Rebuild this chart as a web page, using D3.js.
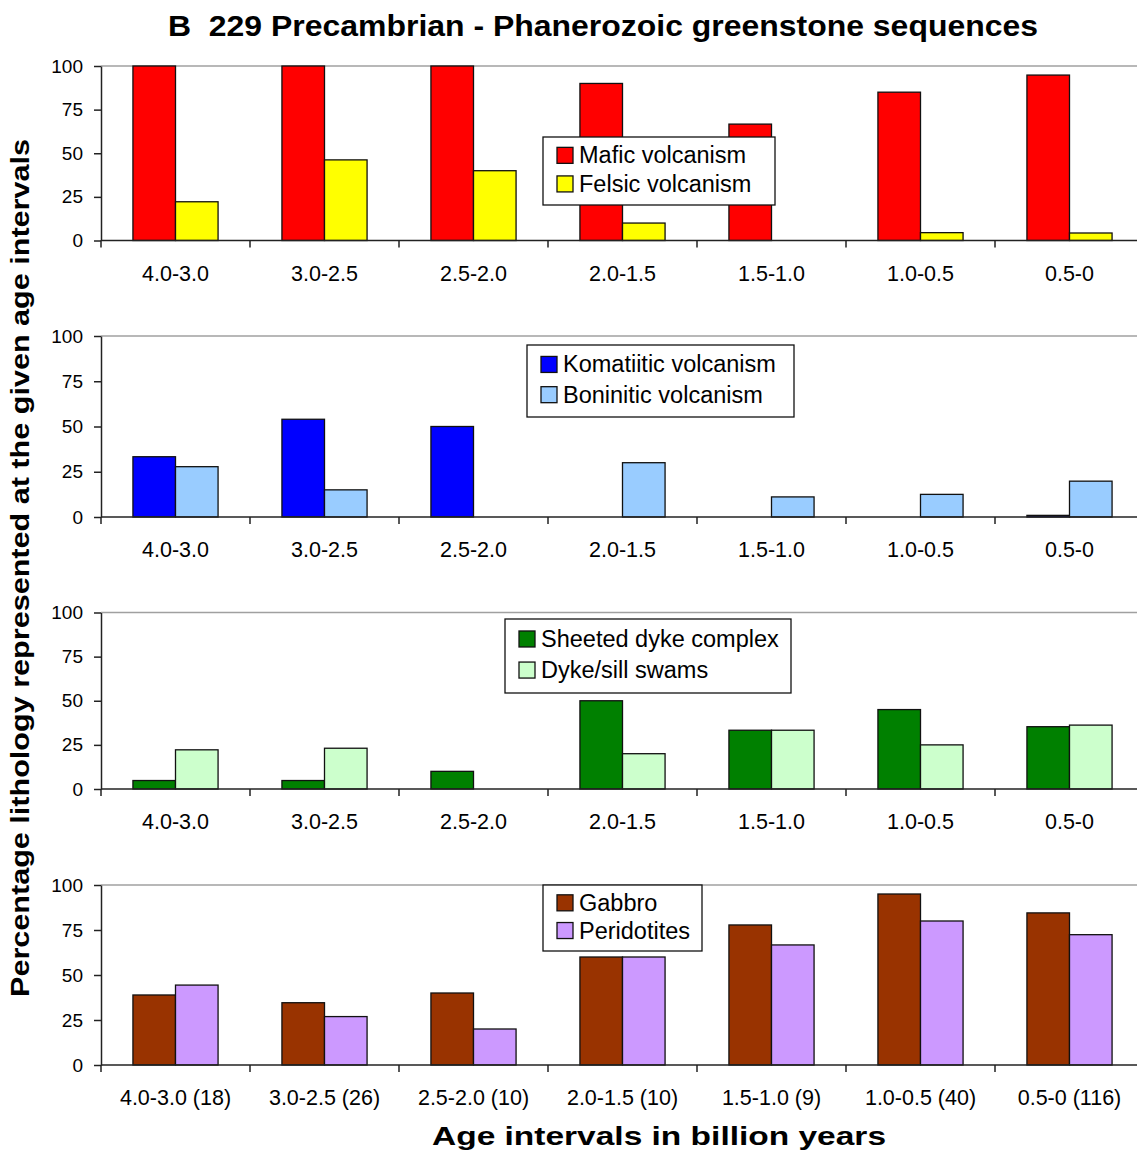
<!DOCTYPE html>
<html>
<head>
<meta charset="utf-8">
<script src="https://cdn.jsdelivr.net/npm/d3@7"></script>
<style>
  html, body { margin: 0; padding: 0; background: #fff; }
  svg { display: block; font-family: "Liberation Sans", Arial, Helvetica, sans-serif; }
</style>
</head>
<body>
<svg id="chart" width="1137" height="1157"></svg>
<script>
// Age intervals (billion years) and number of sequences per interval
const categories = ["4.0-3.0", "3.0-2.5", "2.5-2.0", "2.0-1.5", "1.5-1.0", "1.0-0.5", "0.5-0"];
const bottomLabels = ["4.0-3.0 (18)", "3.0-2.5 (26)", "2.5-2.0 (10)", "2.0-1.5 (10)", "1.5-1.0 (9)", "1.0-0.5 (40)", "0.5-0 (116)"];
const yTicks = [0, 25, 50, 75, 100];

// Percentage of sequences containing each lithology
const mafic       = [100, 100, 100, 90, 66.7, 85, 94.8];
const felsic      = [22.2, 46.2, 40, 10, 0, 4.5, 4.3];
const komatiitic  = [33.3, 54, 50, 0, 0, 0, 0.9];
const boninitic   = [27.8, 15, 0, 30, 11.1, 12.5, 19.8];
const sheetedDyke = [4.8, 4.8, 10, 50, 33.3, 45, 35.3];
const dykeSill    = [22.2, 23.1, 0, 20, 33.3, 25, 36.2];
const gabbro      = [38.9, 34.6, 40, 60, 77.8, 95, 84.5];
const peridotites = [44.4, 26.9, 20, 60, 66.7, 80, 72.4];

const seriesNames = [
  ["Mafic volcanism", "Felsic volcanism"],
  ["Komatiitic volcanism", "Boninitic volcanism"],
  ["Sheeted dyke complex", "Dyke/sill swams"],
  ["Gabbro", "Peridotites"]
];
const seriesValues = [
  [mafic, felsic],
  [komatiitic, boninitic],
  [sheetedDyke, dykeSill],
  [gabbro, peridotites]
];
const seriesColors = [
  ["#ff0000", "#ffff00"],
  ["#0000ff", "#99ccff"],
  ["#008000", "#ccffcc"],
  ["#993300", "#cc99ff"]
];

// Panel layout: vertical extent of each plot area and its legend box
const panels = [
  { top: 66,  bottom: 240.5, legend: { x: 543, y: 137, w: 232, h: 68 }, labels: categories },
  { top: 336, bottom: 517,   legend: { x: 527, y: 345, w: 267, h: 72 }, labels: categories },
  { top: 612.5, bottom: 789, legend: { x: 505, y: 619, w: 286, h: 74 }, labels: categories },
  { top: 885, bottom: 1065,  legend: { x: 543, y: 885, w: 159, h: 66 }, labels: bottomLabels }
];

const plotLeft = 101, plotRight = 1144;
const svg = d3.select("#chart");

const x0 = d3.scaleBand().domain(categories).range([plotLeft, plotRight]).padding(0);
const x1 = d3.scaleBand().domain([0, 1]).range([0, x0.bandwidth()]).paddingInner(0).paddingOuter(0.75);

// Title
svg.append("text")
  .attr("x", 603).attr("y", 36)
  .attr("text-anchor", "middle")
  .attr("font-size", 29).attr("font-weight", "bold")
  .attr("textLength", 870).attr("lengthAdjust", "spacingAndGlyphs")
  .text("B\u00A0 229 Precambrian - Phanerozoic greenstone sequences");

panels.forEach((p, pi) => {
  const y = d3.scaleLinear().domain([0, 100]).range([p.bottom, p.top]);
  const g = svg.append("g");

  // top reference line at 100 %
  g.append("line")
    .attr("x1", plotLeft).attr("x2", plotRight)
    .attr("y1", y(100)).attr("y2", y(100))
    .attr("stroke", "#a0a0a0").attr("stroke-width", 1.5);

  // bars
  seriesValues[pi].forEach((vals, si) => {
    g.append("g").selectAll("rect")
      .data(vals.map((v, i) => ({ v, c: categories[i] })).filter(d => d.v > 0))
      .join("rect")
      .attr("x", d => x0(d.c) + x1(si))
      .attr("width", x1.bandwidth())
      .attr("y", d => y(d.v))
      .attr("height", d => y(0) - y(d.v))
      .attr("fill", seriesColors[pi][si])
      .attr("stroke", "#111")
      .attr("stroke-width", 1.3);
  });

  // y axis
  const yAxis = d3.axisLeft(y).tickValues(yTicks).tickSize(7).tickSizeOuter(0).tickPadding(11);
  const ya = g.append("g").attr("transform", `translate(${plotLeft},0)`).call(yAxis);
  ya.select(".domain").attr("stroke", "#222").attr("stroke-width", 1.5);
  ya.selectAll(".tick line").attr("stroke", "#222").attr("stroke-width", 1.5);
  ya.selectAll(".tick text").attr("font-size", 19).attr("fill", "#000")
    .attr("font-family", "Liberation Sans, Arial, sans-serif");

  // x axis: baseline, ticks at interval boundaries, centred labels
  const xa = g.append("g");
  xa.append("line")
    .attr("x1", plotLeft).attr("x2", plotRight)
    .attr("y1", y(0)).attr("y2", y(0))
    .attr("stroke", "#222").attr("stroke-width", 1.5);
  const bounds = categories.map(c => x0(c)).concat([x0.range()[1]]);
  xa.selectAll("line.tk").data(bounds).join("line").attr("class", "tk")
    .attr("x1", d => d).attr("x2", d => d)
    .attr("y1", y(0)).attr("y2", y(0) + 7)
    .attr("stroke", "#222").attr("stroke-width", 1.5);
  xa.selectAll("text").data(p.labels).join("text")
    .attr("x", (d, i) => x0(categories[i]) + x0.bandwidth() / 2)
    .attr("y", y(0) + 40)
    .attr("text-anchor", "middle")
    .attr("font-size", 21.5)
    .text(d => d);

  // legend
  const L = p.legend;
  const lg = g.append("g");
  lg.append("rect")
    .attr("x", L.x).attr("y", L.y).attr("width", L.w).attr("height", L.h)
    .attr("fill", "#fff").attr("stroke", "#111").attr("stroke-width", 1.3);
  seriesNames[pi].forEach((name, si) => {
    const cy = L.y + L.h * (si === 0 ? 0.27 : 0.69);
    lg.append("rect")
      .attr("x", L.x + 14).attr("y", cy - 8).attr("width", 16).attr("height", 16)
      .attr("fill", seriesColors[pi][si]).attr("stroke", "#111").attr("stroke-width", 1.3);
    lg.append("text")
      .attr("x", L.x + 36).attr("y", cy + 8)
      .attr("font-size", 23.5)
      .text(name);
  });
});

// axis titles
svg.append("text")
  .attr("x", 659).attr("y", 1145)
  .attr("text-anchor", "middle")
  .attr("font-size", 26).attr("font-weight", "bold")
  .attr("textLength", 454).attr("lengthAdjust", "spacingAndGlyphs")
  .text("Age intervals in billion years");

svg.append("text")
  .attr("transform", "translate(29,568) rotate(-90)")
  .attr("text-anchor", "middle")
  .attr("font-size", 25).attr("font-weight", "bold")
  .attr("textLength", 858).attr("lengthAdjust", "spacingAndGlyphs")
  .text("Percentage lithology represented at the given age intervals");
</script>
</body>
</html>
